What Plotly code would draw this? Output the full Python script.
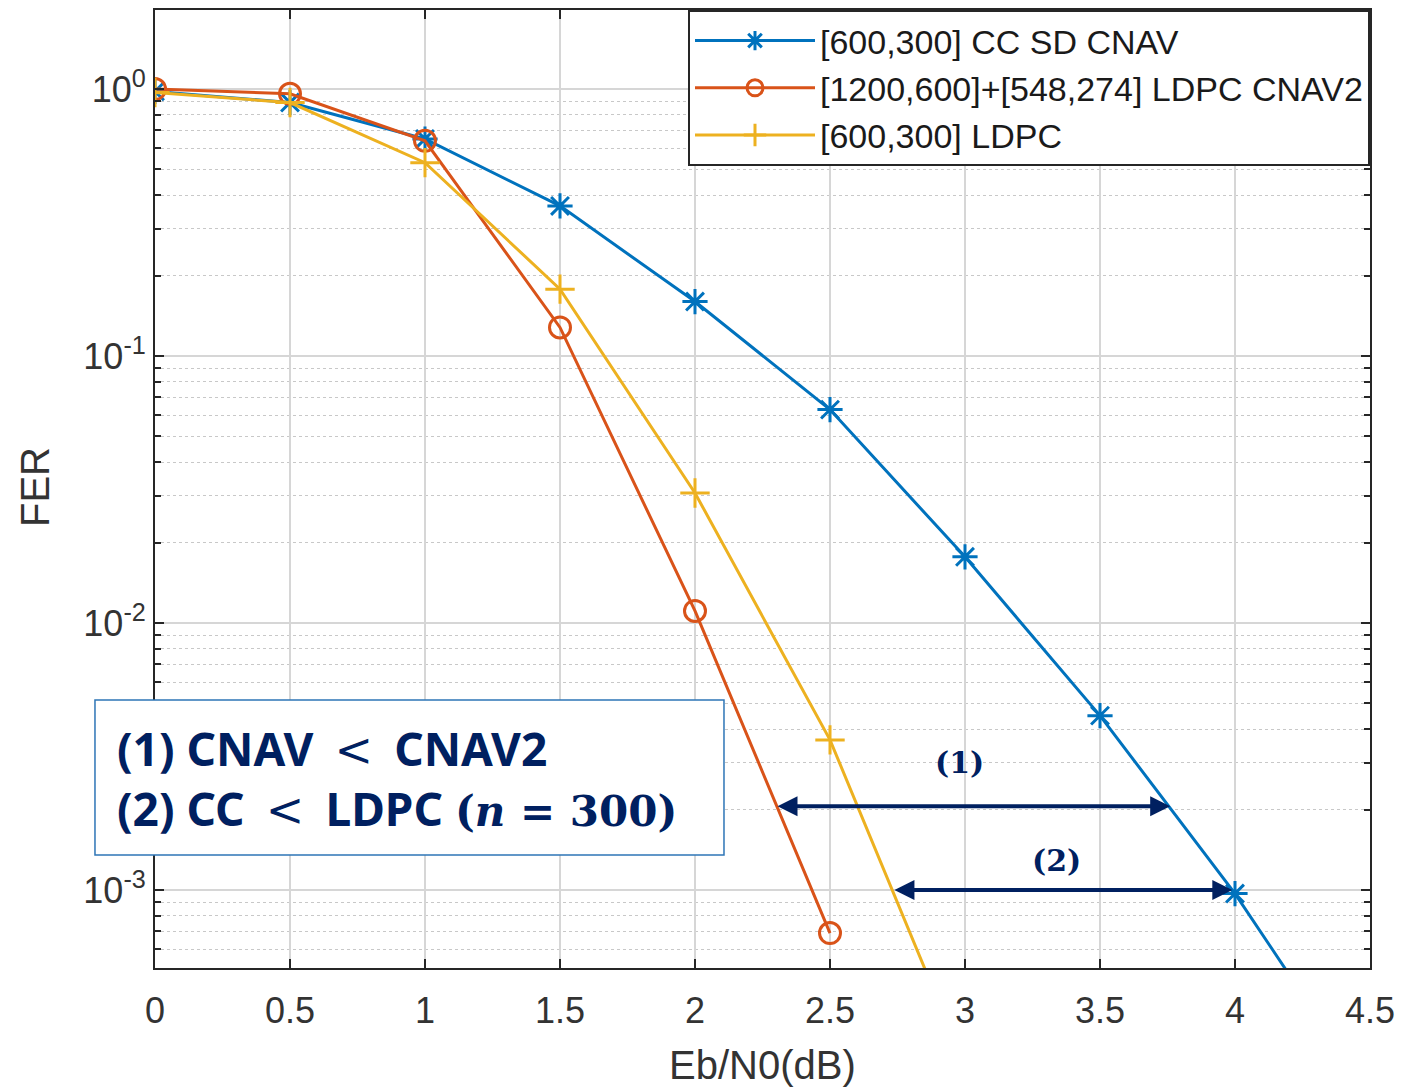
import math
import plotly.graph_objects as go

# ---- data ----
ebn0 = [0, 0.5, 1, 1.5, 2, 2.5, 3, 3.5, 4, 4.5]
fer_cc_cnav = [0.98, 0.89, 0.65, 0.365, 0.16, 0.063, 0.0177, 0.0045, 0.00097, 0.00017]
ebn0_cnav2 = [0, 0.5, 1, 1.5, 2, 2.5]
fer_ldpc_cnav2 = [1.0, 0.96, 0.64, 0.128, 0.0111, 0.00069]
ebn0_ldpc = [0, 0.5, 1, 1.5, 2, 2.5, 3]
fer_ldpc = [0.97, 0.89, 0.53, 0.178, 0.0307, 0.00365, 0.00022]

names = ["[600,300] CC SD CNAV", "[1200,600]+[548,274] LDPC CNAV2", "[600,300] LDPC"]
colors = ["#0072BD", "#D95319", "#EDB120"]

x_ticks = [0, 0.5, 1, 1.5, 2, 2.5, 3, 3.5, 4, 4.5]
x_ticktext = ["0", "0.5", "1", "1.5", "2", "2.5", "3", "3.5", "4", "4.5"]
y_ticks = [1e-3, 1e-2, 1e-1, 1]
y_ticktext = ["10<sup>-3</sup>", "10<sup>-2</sup>", "10<sup>-1</sup>", "10<sup>0</sup>"]

# arrows between curves
arrow_fer = [0.00206, 0.00100]
arrow_x0 = [2.30, 2.733]
arrow_x1 = [3.76, 3.99]
arrow_labels = ["(1)", "(2)"]
label_x = [2.98, 3.34]
label_fer = [0.0030, 0.00129]

NAVY = "#002060"
AX = "#262626"
TXT = "#333333"
FONT = "Liberation Sans, Arial, sans-serif"

fig = go.Figure()
fig.add_trace(go.Scatter(x=ebn0, y=fer_cc_cnav, name=names[0], mode="lines+markers",
                         line=dict(color=colors[0], width=3),
                         marker=dict(symbol="asterisk-open", size=21, color=colors[0],
                                     line=dict(width=3, color=colors[0]))))
fig.add_trace(go.Scatter(x=ebn0_cnav2, y=fer_ldpc_cnav2, name=names[1], mode="lines+markers",
                         line=dict(color=colors[1], width=3),
                         marker=dict(symbol="circle-open", size=21, color=colors[1],
                                     line=dict(width=3, color=colors[1]))))
fig.add_trace(go.Scatter(x=ebn0_ldpc, y=fer_ldpc, name=names[2], mode="lines+markers",
                         line=dict(color=colors[2], width=3),
                         marker=dict(symbol="cross-thin-open", size=21, color=colors[2],
                                     line=dict(width=3, color=colors[2]))))

minor_vals = [m * 10 ** k for k in range(-4, 1) for m in range(2, 10)]

fig.update_xaxes(range=[0, 4.5], tickmode="array", tickvals=x_ticks, ticktext=x_ticktext,
                 showgrid=True, gridcolor="#d6d6d6", gridwidth=1.5,
                 showline=True, linecolor=AX, linewidth=2, mirror="ticks",
                 ticks="inside", ticklen=9, tickwidth=2, tickcolor=AX,
                 ticklabelstandoff=10,
                 tickfont=dict(size=36, color=TXT, family=FONT),
                 zeroline=False, automargin=False)
fig.update_yaxes(type="log", range=[-3.292, 0.296], tickmode="array", tickvals=y_ticks,
                 ticktext=y_ticktext, showgrid=True, gridcolor="#d6d6d6", gridwidth=1.5,
                 showline=True, linecolor=AX, linewidth=2, mirror="ticks",
                 ticks="inside", ticklen=9, tickwidth=2, tickcolor=AX,
                 tickfont=dict(size=36, color=TXT, family=FONT),
                 minor=dict(tickmode="array", tickvals=minor_vals, showgrid=True,
                            griddash="dot", gridcolor="#c8c8c8", gridwidth=1.2,
                            ticks="inside", ticklen=6, tickcolor=AX),
                 zeroline=False, automargin=False)

# axis titles placed as annotations for exact positioning
fig.add_annotation(xref="paper", yref="paper", x=0.5, y=-0.101, text="Eb/N0(dB)", showarrow=False,
                   xanchor="center", yanchor="middle", font=dict(size=40, color=TXT, family=FONT))
fig.add_annotation(xref="paper", yref="paper", x=-0.0988, y=0.502, text="FER", showarrow=False,
                   textangle=-90, xanchor="center", yanchor="middle",
                   font=dict(size=40, color=TXT, family=FONT))

# annotation box
fig.add_shape(type="rect", xref="paper", yref="paper", x0=-0.0494, x1=0.4683, y0=0.118, y1=0.2797,
              line=dict(color="#2E75B6", width=1.5), fillcolor="white", layer="above")
LT = "<span style=\"font-family:'DejaVu Serif'; font-weight:normal\">&#8201;&lt;&#8201;</span>"
box_text = ("<b>(1) CNAV " + LT + " CNAV2</b><br>"
            "<b>(2) CC " + LT + " LDPC <span style=\"font-family:'DejaVu Serif'; font-size:42px\">"
            "(<i>n</i> = 300)</span></b>")
fig.add_annotation(xref="paper", yref="paper", x=-0.033, y=0.198, xanchor="left", yanchor="middle",
                   text=box_text, showarrow=False, align="left",
                   font=dict(size=46, color=NAVY, family="Noto Sans, sans-serif"))

for i in range(2):
    ly = math.log10(arrow_fer[i])
    fig.add_annotation(x=arrow_x1[i], y=ly, ax=arrow_x0[i], ay=ly, xref="x", yref="y",
                       axref="x", ayref="y", showarrow=True, arrowhead=2, arrowside="end+start",
                       arrowsize=1, arrowwidth=4, arrowcolor=NAVY, text="")
    fig.add_annotation(x=label_x[i], y=math.log10(label_fer[i]), xref="x", yref="y",
                       text="<b>" + arrow_labels[i] + "</b>", showarrow=False,
                       font=dict(size=30, color=NAVY, family="DejaVu Serif, serif"))

# page body has an 8px margin, so offset the plot area accordingly
fig.update_layout(width=1403, height=1087, margin=dict(l=147, r=41, t=2, b=127),
                  plot_bgcolor="white", paper_bgcolor="white",
                  font=dict(family=FONT, color=AX),
                  legend=dict(x=1, y=1, xanchor="right", yanchor="top", bgcolor="white",
                              bordercolor=AX, borderwidth=2, itemwidth=120,
                              font=dict(size=34, color="#1a1a1a", family=FONT),
                              tracegroupgap=0),
                  showlegend=True)

fig.write_html("out.html")
